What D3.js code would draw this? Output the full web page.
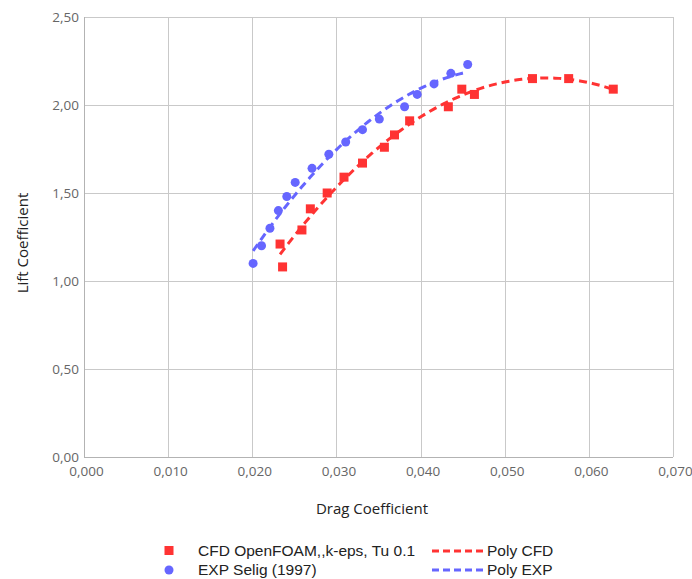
<!DOCTYPE html>
<meta charset="utf-8">
<html>
<head>
<style>
body { margin: 0; background: #fff; }
.grid line { stroke: #c9c9c9; stroke-width: 1px; shape-rendering: crispEdges; }
.tick text { font: 13.5px "Open Sans", sans-serif; fill: #666; }
.title { font: 15px "Open Sans", sans-serif; fill: #222; }
.legend text { font: 15.5px "Liberation Sans", sans-serif; fill: #222; }
</style>
</head>
<body>
<div id="chart"></div>
<script src="https://d3js.org/d3.v7.min.js"></script>
<script>

// CFD OpenFOAM, k-eps, Tu 0.1
var cfdDrag = [0.0236, 0.0233, 0.0259, 0.0269, 0.0289, 0.0309, 0.0331, 0.0357, 0.0369, 0.0387, 0.0433, 0.0449, 0.0464, 0.0533, 0.0576, 0.0629];
var cfdLift = [1.08, 1.21, 1.29, 1.41, 1.50, 1.59, 1.67, 1.76, 1.83, 1.91, 1.99, 2.09, 2.06, 2.15, 2.15, 2.09];

// EXP Selig (1997)
var expDrag = [0.0201, 0.0211, 0.0221, 0.0231, 0.0241, 0.0251, 0.0271, 0.0291, 0.0311, 0.0331, 0.0351, 0.0381, 0.0396, 0.0416, 0.0436, 0.0456];
var expLift = [1.10, 1.20, 1.30, 1.40, 1.48, 1.56, 1.64, 1.72, 1.79, 1.86, 1.92, 1.99, 2.06, 2.12, 2.18, 2.23];

var xTicks = [0, 0.01, 0.02, 0.03, 0.04, 0.05, 0.06, 0.07];
var yTicks = [0, 0.5, 1.0, 1.5, 2.0, 2.5];
var legendNames = ["CFD OpenFOAM,,k-eps, Tu 0.1", "EXP Selig (1997)", "Poly CFD", "Poly EXP"];

var red = "#ff3333", blue = "#6666ff";

var width = 692, height = 579;
var pLeft = 84, pRight = 673, pTop = 17, pBottom = 457;

var svg = d3.select("#chart").append("svg")
    .attr("width", width)
    .attr("height", height);

var x = d3.scaleLinear().domain([0, 0.07]).range([pLeft, pRight]);
var y = d3.scaleLinear().domain([0, 2.5]).range([pBottom, pTop]);

var fmtX = function(d) { return d3.format(".3f")(d).replace(".", ","); };
var fmtY = function(d) { return d3.format(".2f")(d).replace(".", ","); };

// grid + axes
var gx = svg.append("g")
    .attr("class", "grid")
    .attr("transform", "translate(0," + pBottom + ")")
    .call(d3.axisBottom(x).tickValues(xTicks).tickSize(-(pBottom - pTop)).tickPadding(9).tickFormat(fmtX));
gx.select(".domain").remove();
gx.selectAll(".tick text").attr("dx", 2);

var gy = svg.append("g")
    .attr("class", "grid")
    .attr("transform", "translate(" + pLeft + ",0)")
    .call(d3.axisLeft(y).tickValues(yTicks).tickSize(-(pRight - pLeft)).tickPadding(5).tickFormat(fmtY));
gy.select(".domain").remove();

// left and bottom axis lines a bit darker
svg.append("line").attr("x1", pLeft).attr("x2", pLeft).attr("y1", pTop).attr("y2", pBottom)
    .attr("stroke", "#b3b3b3").attr("shape-rendering", "crispEdges");
svg.append("line").attr("x1", pLeft).attr("x2", pRight).attr("y1", pBottom).attr("y2", pBottom)
    .attr("stroke", "#b3b3b3").attr("shape-rendering", "crispEdges");

svg.append("text").attr("class", "title")
    .attr("x", 372).attr("y", 514)
    .attr("text-anchor", "middle")
    .text("Drag Coefficient");

svg.append("text").attr("class", "title")
    .attr("transform", "translate(28," + ((pTop + pBottom) / 2 + 6) + ") rotate(-90)")
    .attr("text-anchor", "middle")
    .text("Lift Coefficient");

// least squares polynomial (degree 2) like the spreadsheet trendline
function polyFit(xs, ys) {
    var n = 3, A = [], b = [];
    for (var i = 0; i < n; i++) {
        A.push([0, 0, 0]); b.push(0);
        for (var k = 0; k < xs.length; k++) {
            for (var j = 0; j < n; j++) A[i][j] += Math.pow(xs[k], i + j);
            b[i] += ys[k] * Math.pow(xs[k], i);
        }
    }
    // gauss elimination
    for (var c = 0; c < n; c++) {
        for (var r = c + 1; r < n; r++) {
            var f = A[r][c] / A[c][c];
            for (var j = c; j < n; j++) A[r][j] -= f * A[c][j];
            b[r] -= f * b[c];
        }
    }
    var coef = [0, 0, 0];
    for (var r = n - 1; r >= 0; r--) {
        var s = b[r];
        for (var j = r + 1; j < n; j++) s -= A[r][j] * coef[j];
        coef[r] = s / A[r][r];
    }
    return function(v) { return coef[0] + coef[1] * v + coef[2] * v * v; };
}

function trend(xs, ys) {
    var f = polyFit(xs, ys);
    var x0 = d3.min(xs), x1 = d3.max(xs);
    return d3.range(0, 81).map(function(i) {
        var v = x0 + (x1 - x0) * i / 80;
        return [v, f(v)];
    });
}

var line = d3.line()
    .x(function(d) { return x(d[0]); })
    .y(function(d) { return y(d[1]); });

var cfd = cfdDrag.map(function(d, i) { return [d, cfdLift[i]]; });
var exp = expDrag.map(function(d, i) { return [d, expLift[i]]; });

svg.append("g").selectAll("rect")
    .data(cfd).enter().append("rect")
    .attr("x", function(d) { return x(d[0]) - 4.5; })
    .attr("y", function(d) { return y(d[1]) - 4.5; })
    .attr("width", 9).attr("height", 9)
    .attr("fill", red);

svg.append("g").selectAll("circle")
    .data(exp).enter().append("circle")
    .attr("cx", function(d) { return x(d[0]); })
    .attr("cy", function(d) { return y(d[1]); })
    .attr("r", 4.5)
    .attr("fill", blue);

svg.append("path")
    .attr("d", line(trend(cfdDrag, cfdLift)))
    .attr("fill", "none").attr("stroke", red)
    .attr("stroke-width", 3).attr("stroke-dasharray", "8,5");

svg.append("path")
    .attr("d", line(trend(expDrag, expLift)))
    .attr("fill", "none").attr("stroke", blue)
    .attr("stroke-width", 3).attr("stroke-dasharray", "8,5");

// legend
var lg = svg.append("g").attr("class", "legend");
lg.append("rect").attr("x", 164.5).attr("y", 546).attr("width", 9).attr("height", 9).attr("fill", red);
lg.append("circle").attr("cx", 169).attr("cy", 570).attr("r", 4.5).attr("fill", blue);
lg.append("text").attr("x", 198).attr("y", 556).text(legendNames[0]);
lg.append("text").attr("x", 198).attr("y", 575).text(legendNames[1]);

lg.append("line").attr("x1", 432).attr("x2", 483).attr("y1", 551).attr("y2", 551)
    .attr("stroke", red).attr("stroke-width", 3).attr("stroke-dasharray", "7,4");
lg.append("line").attr("x1", 432).attr("x2", 483).attr("y1", 570).attr("y2", 570)
    .attr("stroke", blue).attr("stroke-width", 3).attr("stroke-dasharray", "7,4");
lg.append("text").attr("x", 487).attr("y", 556).text(legendNames[2]);
lg.append("text").attr("x", 487).attr("y", 575).text(legendNames[3]);

</script>
</body>
</html>
